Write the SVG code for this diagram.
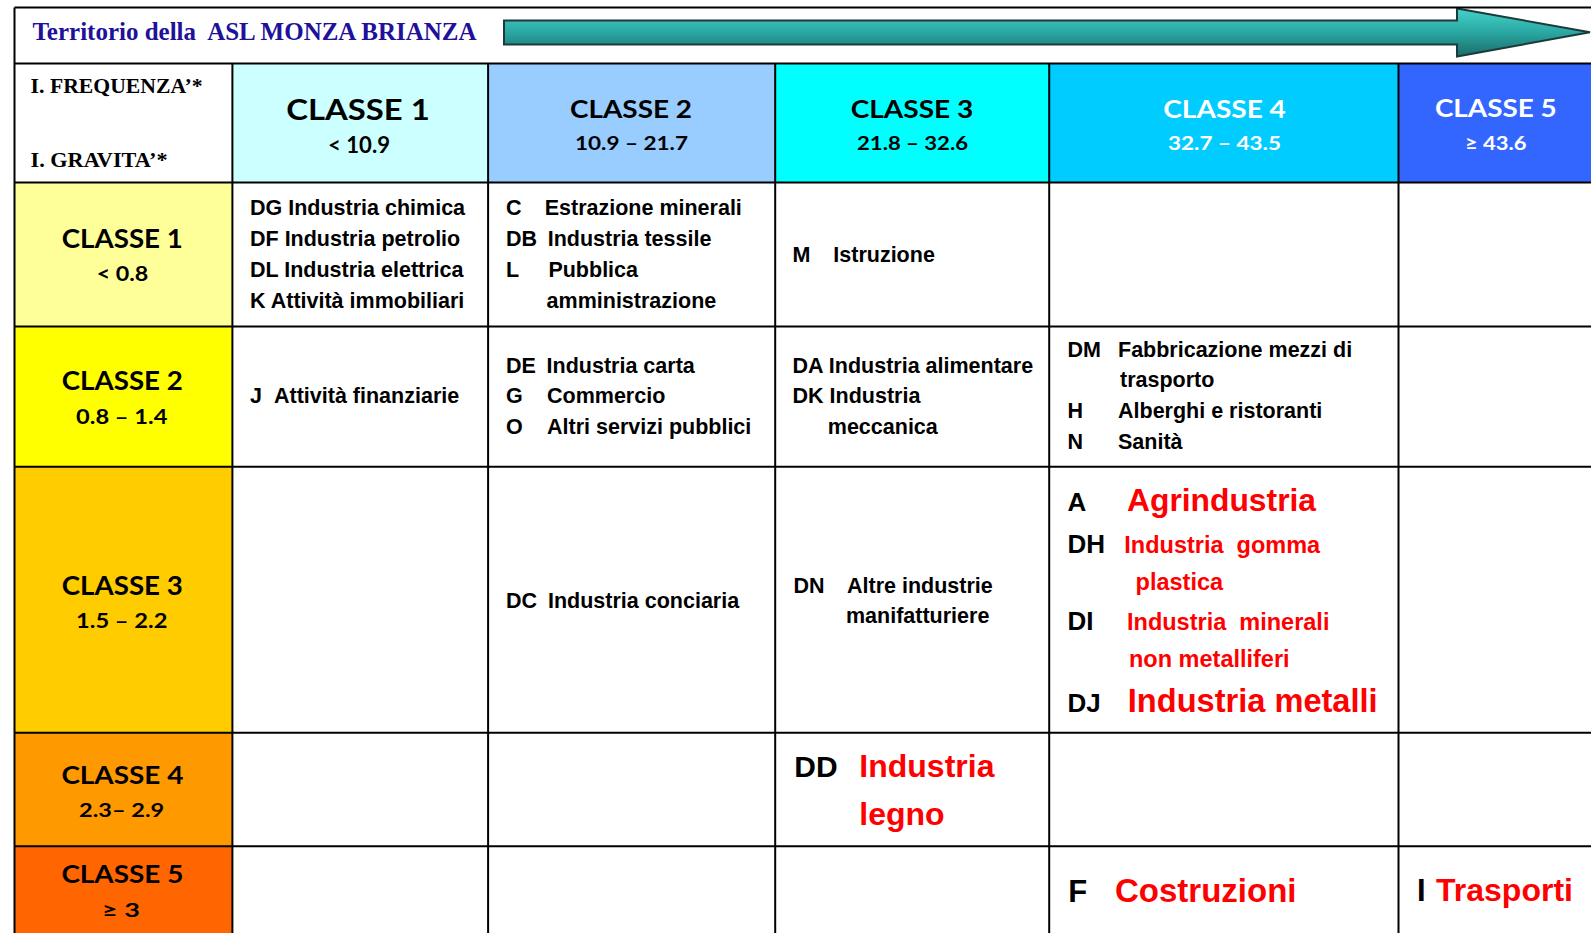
<svg xmlns="http://www.w3.org/2000/svg" width="1591" height="933" viewBox="0 0 1591 933">
<defs>
<linearGradient id="arrowFill" x1="0" y1="0" x2="0" y2="1">
<stop offset="0" stop-color="#46d2cb"/>
<stop offset="0.5" stop-color="#2aa7a2"/>
<stop offset="1" stop-color="#1a6c69"/>
</linearGradient>
<style>
text{white-space:pre}
.t{font-family:"Liberation Sans",Arial,sans-serif;font-weight:bold;fill:#000}
.n{font-size:21.5px}
.red{fill:#ff0000}
.c{font-family:Lato,"Open Sans",sans-serif;font-weight:bold;text-anchor:middle;fill:#000}
.w{fill:#ffffff}
.s{font-family:"Liberation Serif","Times New Roman",serif;font-weight:bold}
.grid{stroke:#000;stroke-width:2;fill:none}
</style>
</defs>
<rect x="0" y="0" width="1591" height="933" fill="#ffffff"/>

<g id="title">
<text class="s" x="32.5" y="39.5" font-size="24.5" fill="#20109a" textLength="444" lengthAdjust="spacingAndGlyphs">Territorio della&#160; ASL MONZA BRIANZA</text>
</g>

<g id="arrow">
<polygon points="504,20.5 1457,20.5 1457,8.5 1590,32.3 1457,56.5 1457,44.5 504,44.5" fill="url(#arrowFill)" stroke="#1d3a3a" stroke-width="2" stroke-linejoin="miter"/>
</g>

<g id="cells-fill">
<rect x="232.4" y="63.5" width="255.7" height="119" fill="#ccffff"/>
<rect x="488.1" y="63.5" width="287.1" height="119" fill="#99ccff"/>
<rect x="775.2" y="63.5" width="274" height="119" fill="#00ffff"/>
<rect x="1049.2" y="63.5" width="349.3" height="119" fill="#00ccff"/>
<rect x="1398.5" y="63.5" width="193" height="119" fill="#3366ff"/>
<rect x="14.5" y="182.5" width="217.9" height="144" fill="#ffff99"/>
<rect x="14.5" y="326.5" width="217.9" height="140.2" fill="#ffff00"/>
<rect x="14.5" y="466.7" width="217.9" height="266.1" fill="#ffcc00"/>
<rect x="14.5" y="732.8" width="217.9" height="113.4" fill="#ff9900"/>
<rect x="14.5" y="846.2" width="217.9" height="87" fill="#ff6600"/>
</g>

<g id="grid">
<line class="grid" x1="14.5" y1="7.5" x2="1591" y2="7.5"/>
<line class="grid" x1="14.5" y1="7.5" x2="14.5" y2="933"/>
<line class="grid" x1="14.5" y1="63.5" x2="1591" y2="63.5"/>
<line class="grid" x1="14.5" y1="182.5" x2="1591" y2="182.5"/>
<line class="grid" x1="14.5" y1="326.5" x2="1591" y2="326.5"/>
<line class="grid" x1="14.5" y1="466.7" x2="1591" y2="466.7"/>
<line class="grid" x1="14.5" y1="732.8" x2="1591" y2="732.8"/>
<line class="grid" x1="14.5" y1="846.2" x2="1591" y2="846.2"/>
<line class="grid" x1="232.4" y1="63.5" x2="232.4" y2="933"/>
<line class="grid" x1="488.1" y1="63.5" x2="488.1" y2="933"/>
<line class="grid" x1="775.2" y1="63.5" x2="775.2" y2="933"/>
<line class="grid" x1="1049.2" y1="63.5" x2="1049.2" y2="933"/>
<line class="grid" x1="1398.5" y1="63.5" x2="1398.5" y2="933"/>
</g>

<g id="corner">
<text class="s" x="30.6" y="93" font-size="21.5" textLength="172" lengthAdjust="spacingAndGlyphs">I. FREQUENZA’*</text>
<text class="s" x="30.6" y="166.7" font-size="21.5" textLength="137" lengthAdjust="spacingAndGlyphs">I. GRAVITA’*</text>
</g>

<g id="freq-classe1">
<text class="c" x="358" y="120" font-size="28" textLength="143.5" lengthAdjust="spacingAndGlyphs">CLASSE 1</text>
<text class="c" x="359" y="153.3" font-size="22" textLength="62" lengthAdjust="spacingAndGlyphs">&lt; 10.9</text>
</g>
<g id="freq-classe2">
<text class="c" x="631" y="118.3" font-size="25.5" textLength="122" lengthAdjust="spacingAndGlyphs">CLASSE 2</text>
<text class="c" x="631.5" y="150" font-size="19" textLength="113" lengthAdjust="spacingAndGlyphs">10.9 – 21.7</text>
</g>
<g id="freq-classe3">
<text class="c" x="912" y="118.3" font-size="25.5" textLength="122.6" lengthAdjust="spacingAndGlyphs">CLASSE 3</text>
<text class="c" x="912.5" y="150" font-size="19" textLength="111" lengthAdjust="spacingAndGlyphs">21.8 – 32.6</text>
</g>
<g id="freq-classe4">
<text class="c w" x="1224.6" y="118.3" font-size="25.5" textLength="122.6" lengthAdjust="spacingAndGlyphs">CLASSE 4</text>
<text class="c w" x="1224.5" y="150" font-size="19" textLength="113" lengthAdjust="spacingAndGlyphs">32.7 – 43.5</text>
</g>
<g id="freq-classe5">
<text class="c w" x="1495.8" y="117.3" font-size="25.5" textLength="121.7" lengthAdjust="spacingAndGlyphs">CLASSE 5</text>
<text class="c w" x="1495.8" y="150" font-size="19" textLength="61.7" lengthAdjust="spacingAndGlyphs">≥ 43.6</text>
</g>

<g id="grav-classe1">
<text class="c" x="122.3" y="248.3" font-size="26.5" textLength="121" lengthAdjust="spacingAndGlyphs">CLASSE 1</text>
<text class="c" x="122.5" y="280.7" font-size="20.5" textLength="51.7" lengthAdjust="spacingAndGlyphs">&lt; 0.8</text>
</g>
<g id="grav-classe2">
<text class="c" x="122.3" y="390" font-size="26.5" textLength="121" lengthAdjust="spacingAndGlyphs">CLASSE 2</text>
<text class="c" x="121.7" y="424.3" font-size="20.5" textLength="91.3" lengthAdjust="spacingAndGlyphs">0.8 – 1.4</text>
</g>
<g id="grav-classe3">
<text class="c" x="122.3" y="594.5" font-size="26.5" textLength="121" lengthAdjust="spacingAndGlyphs">CLASSE 3</text>
<text class="c" x="121.7" y="627.5" font-size="20.5" textLength="91.3" lengthAdjust="spacingAndGlyphs">1.5 – 2.2</text>
</g>
<g id="grav-classe4">
<text class="c" x="122.4" y="784" font-size="24" textLength="122" lengthAdjust="spacingAndGlyphs">CLASSE 4</text>
<text class="c" x="121.6" y="816.7" font-size="18.5" textLength="85" lengthAdjust="spacingAndGlyphs">2.3– 2.9</text>
</g>
<g id="grav-classe5">
<text class="c" x="122.4" y="883.3" font-size="24" textLength="122" lengthAdjust="spacingAndGlyphs">CLASSE 5</text>
<text class="c" x="121" y="916.7" font-size="18.5" textLength="38" lengthAdjust="spacingAndGlyphs">≥ 3</text>
</g>

<g id="cell-g1-f1">
<text class="t n" x="250" y="215">DG Industria chimica</text>
<text class="t n" x="250" y="246">DF Industria petrolio</text>
<text class="t n" x="250" y="277">DL Industria elettrica</text>
<text class="t n" x="250" y="308">K Attività immobiliari</text>
</g>
<g id="cell-g1-f2">
<text class="t n" x="506" y="215">C</text><text class="t n" x="544.7" y="215">Estrazione minerali</text>
<text class="t n" x="506" y="246">DB</text><text class="t n" x="547.7" y="246">Industria tessile</text>
<text class="t n" x="506" y="277">L</text><text class="t n" x="548.4" y="277">Pubblica</text>
<text class="t n" x="546.6" y="308">amministrazione</text>
</g>
<g id="cell-g1-f3">
<text class="t n" x="792.6" y="261.7">M</text><text class="t n" x="833.3" y="261.7">Istruzione</text>
</g>

<g id="cell-g2-f1">
<text class="t n" x="250" y="402.7">J</text><text class="t n" x="274" y="402.7">Attività finanziarie</text>
</g>
<g id="cell-g2-f2">
<text class="t n" x="506" y="372.7">DE</text><text class="t n" x="546.6" y="372.7">Industria carta</text>
<text class="t n" x="506" y="403.3">G</text><text class="t n" x="547" y="403.3">Commercio</text>
<text class="t n" x="506" y="434.3">O</text><text class="t n" x="547" y="434.3">Altri servizi pubblici</text>
</g>
<g id="cell-g2-f3">
<text class="t n" x="792.6" y="372.7">DA Industria alimentare</text>
<text class="t n" x="792.6" y="403.3">DK Industria</text>
<text class="t n" x="827.8" y="434.3">meccanica</text>
</g>
<g id="cell-g2-f4">
<text class="t n" x="1067.4" y="356.7">DM</text><text class="t n" x="1118" y="356.7">Fabbricazione mezzi di</text>
<text class="t n" x="1120" y="387.3">trasporto</text>
<text class="t n" x="1067.4" y="418.3">H</text><text class="t n" x="1118" y="418.3">Alberghi e ristoranti</text>
<text class="t n" x="1067.4" y="449.3">N</text><text class="t n" x="1118" y="449.3">Sanità</text>
</g>

<g id="cell-g3-f2">
<text class="t n" x="506" y="607.8">DC</text><text class="t n" x="548" y="607.8">Industria conciaria</text>
</g>
<g id="cell-g3-f3">
<text class="t n" x="793.5" y="592.6">DN</text><text class="t n" x="847" y="592.6">Altre industrie</text>
<text class="t n" x="846" y="623">manifatturiere</text>
</g>
<g id="cell-g3-f4">
<text class="t" x="1067.4" y="510.7" font-size="26">A</text>
<text class="t red" x="1127" y="510.7" font-size="31.8">Agrindustria</text>
<text class="t" x="1067.4" y="553.3" font-size="26">DH</text>
<text class="t red" x="1124.3" y="553.3" font-size="23.5">Industria&#160; gomma</text>
<text class="t red" x="1135.6" y="590" font-size="23.5">plastica</text>
<text class="t" x="1067.4" y="630" font-size="26">DI</text>
<text class="t red" x="1127" y="630" font-size="23.5">Industria&#160; minerali</text>
<text class="t red" x="1129" y="666.7" font-size="23.5">non metalliferi</text>
<text class="t" x="1067.4" y="711.7" font-size="26">DJ</text>
<text class="t red" x="1127.8" y="711.7" font-size="32.6">Industria metalli</text>
</g>

<g id="cell-g4-f3">
<text class="t" x="794.3" y="777.3" font-size="30">DD</text>
<text class="t red" x="859.3" y="777.3" font-size="32">Industria</text>
<text class="t red" x="859.3" y="824.7" font-size="32">legno</text>
</g>

<g id="cell-g5-f4">
<text class="t" x="1068.3" y="902" font-size="31">F</text>
<text class="t red" x="1115" y="902" font-size="33">Costruzioni</text>
</g>
<g id="cell-g5-f5">
<text class="t" x="1417" y="901" font-size="31">I</text>
<text class="t red" x="1436" y="901" font-size="32">Trasporti</text>
</g>
</svg>
